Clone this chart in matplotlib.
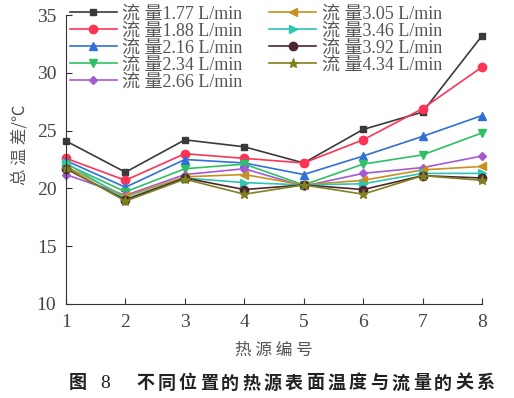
import numpy as np
import matplotlib.pyplot as plt

plt.rcParams['font.family'] = ['Liberation Serif', 'Noto Sans CJK SC']

heat_source = [1, 2, 3, 4, 5, 6, 7, 8]

flow_labels = ['1.77', '1.88', '2.16', '2.34', '2.66', '3.05', '3.46', '3.92', '4.34']

t_177 = [24.1, 21.4, 24.2, 23.6, 22.2, 25.1, 26.6, 33.2]
t_188 = [22.6, 20.7, 23.0, 22.6, 22.2, 24.2, 26.9, 30.5]
t_216 = [22.4, 20.1, 22.5, 22.2, 21.2, 22.8, 24.5, 26.3]
t_234 = [22.1, 19.7, 21.7, 22.1, 20.3, 22.1, 22.9, 24.8]
t_266 = [21.2, 19.4, 21.2, 21.7, 20.2, 21.3, 21.8, 22.8]
t_305 = [21.9, 19.3, 21.0, 21.2, 20.3, 20.7, 21.6, 21.9]
t_346 = [22.2, 19.1, 20.9, 20.5, 20.3, 20.4, 21.3, 21.3]
t_392 = [21.7, 19.0, 20.9, 19.9, 20.3, 19.9, 21.1, 20.9]
t_434 = [21.8, 18.9, 20.8, 19.5, 20.3, 19.5, 21.1, 20.7]

series = [t_177, t_188, t_216, t_234, t_266, t_305, t_346, t_392, t_434]
colors = ['#3a3a3a', '#ff3355', '#3070d8', '#2fc065', '#a45ad0',
          '#c8901e', '#2fc4b4', '#4e2630', '#80801e']
markers = ['s', 'o', '^', 'v', 'D', '<', '>', 'o', '*']
msizes = [5, 6, 5.5, 5.5, 4.5, 5.5, 5.5, 6, 6.5]

fig = plt.figure(figsize=(5.14, 3.98), dpi=100)
ax = fig.add_axes([66 / 514, 1 - 304 / 398, 416 / 514, 289 / 398])

for vals, lab, c, m, ms in zip(series, flow_labels, colors, markers, msizes):
    ax.plot(heat_source, vals, color=c, marker=m, markersize=ms, lw=1.2,
            label='流 量' + lab + ' L/min', clip_on=False)

ax.set_xlim(1, 8)
ax.set_ylim(10, 35)
ax.set_xticks(heat_source)
ax.set_yticks([10, 15, 20, 25, 30, 35])
ax.spines['top'].set_visible(False)
ax.spines['right'].set_visible(False)
ax.spines['left'].set_color('#333333')
ax.spines['bottom'].set_color('#333333')
ax.tick_params(direction='in', length=4, labelsize=14, colors='#333333', pad=7)
for t in ax.get_xticklabels() + ax.get_yticklabels():
    t.set_color('#444444')

ax.set_ylabel('总 温 差/℃', family=['Noto Sans CJK SC', 'DejaVu Sans'],
              fontsize=12, color='#555555', labelpad=6, y=0.55)
ax.set_xlabel('热 源 编 号', family=['Noto Sans CJK SC', 'DejaVu Sans'],
              fontsize=12, color='#555555', labelpad=8)

leg = ax.legend(ncol=2, loc='upper left', bbox_to_anchor=(0.0, 1.045),
                frameon=False, fontsize=13, handlelength=2.6,
                labelspacing=0.0, columnspacing=1.5, handletextpad=0.3,
                borderaxespad=0.0, borderpad=0.2)
for t in leg.get_texts():
    t.set_color('#555555')

caption = '不同位置的热源表面温度与流量的关系'
cap_y = 1 - 383 / 398
fig.text(78 / 514, cap_y, '图', ha='center', va='center', fontsize=13,
         fontweight='bold', family=['Noto Sans CJK SC', 'DejaVu Sans'], color='#222222')
fig.text(105 / 514, cap_y, '8', ha='center', va='center', fontsize=14,
         family=['Liberation Serif'], color='#222222')
for i, ch in enumerate(caption):
    fig.text((145 + i * 21.3) / 514, cap_y, ch, ha='center', va='center',
             fontsize=13, fontweight='bold',
             family=['Noto Sans CJK SC', 'DejaVu Sans'], color='#222222')

fig.savefig('out.png', dpi=100)
